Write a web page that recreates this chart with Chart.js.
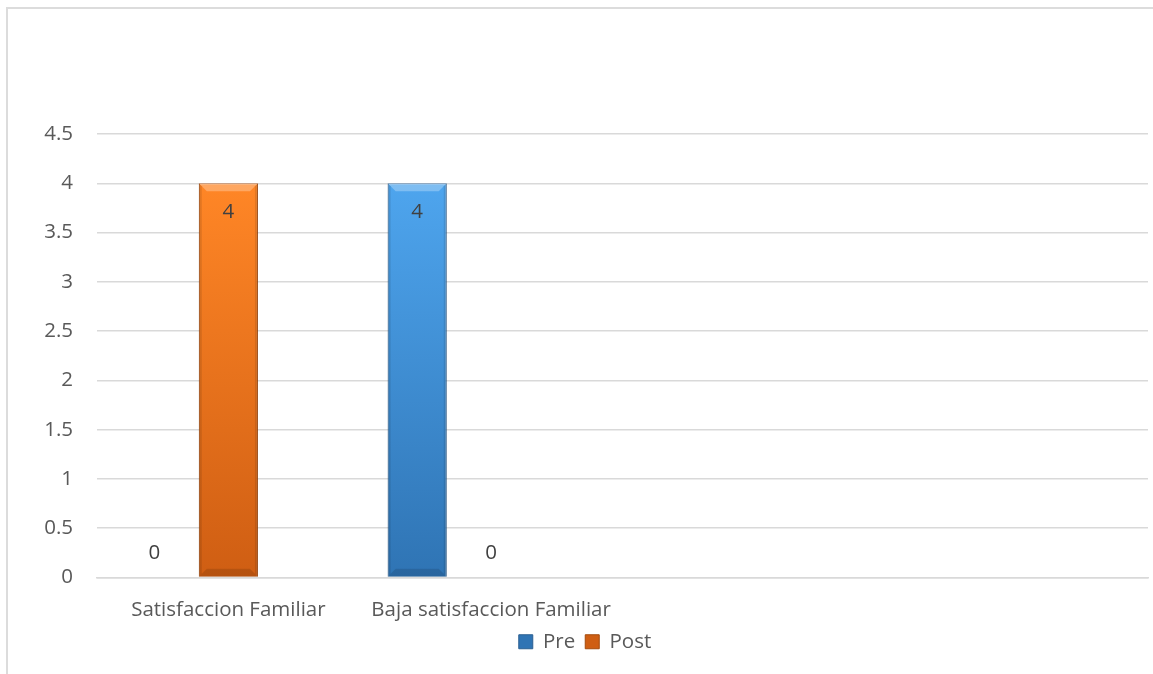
<!DOCTYPE html>
<html>
<head>
<meta charset="utf-8">
<script src="https://cdn.jsdelivr.net/npm/chart.js@4"></script>
<style>
  html, body { margin: 0; padding: 0; background: #fff; overflow: hidden; }
  #frame { position: absolute; left: 6px; top: 7px; width: 1160px; height: 680px;
           border-left: 2px solid #dcdcdc; border-top: 2px solid #dcdcdc; }
  #wrap { position: absolute; left: 0; top: 0; width: 1153px; height: 674px; }
</style>
</head>
<body>
<div id="frame"></div>
<div id="wrap"><canvas id="c" width="1153" height="674"></canvas></div>
<script>
const categories = ['Satisfaccion Familiar', 'Baja satisfaccion Familiar', '', ''];
const preValues = [0, 4, null, null];
const postValues = [4, 0, null, null];
const spacerValues = [null, null, null, null];
const yTicks = [0, 0.5, 1, 1.5, 2, 2.5, 3, 3.5, 4, 4.5];

const FONT = "'Open Sans', 'DejaVu Sans', sans-serif";
const TEXT = '#595959';
const FS = 20.5;

function grad(ctx, top, bottom) {
  const chart = ctx.chart;
  const ys = chart.scales && chart.scales.y;
  if (!ys || !chart.chartArea) return bottom;
  const g = chart.ctx.createLinearGradient(0, ys.getPixelForValue(4), 0, ys.getPixelForValue(0));
  g.addColorStop(0, top);
  g.addColorStop(1, bottom);
  return g;
}

const bevelPlugin = {
  id: 'bevel',
  afterDatasetsDraw(chart) {
    const ctx = chart.ctx;
    chart.data.datasets.forEach((ds, di) => {
      const meta = chart.getDatasetMeta(di);
      if (meta.hidden) return;
      meta.data.forEach((bar, i) => {
        const v = ds.data[i];
        if (v === null || v === 0) return;
        const p = bar.getProps(['x', 'y', 'base', 'width'], true);
        const l = p.x - p.width / 2, r = p.x + p.width / 2, t = p.y, b = p.base;
        const d = 8;
        ctx.save();
        ctx.fillStyle = 'rgba(255,255,255,0.28)';
        ctx.beginPath(); ctx.moveTo(l, t); ctx.lineTo(r, t); ctx.lineTo(r - d, t + d); ctx.lineTo(l + d, t + d); ctx.closePath(); ctx.fill();
        ctx.fillStyle = 'rgba(0,0,0,0.10)';
        ctx.beginPath(); ctx.moveTo(r, t); ctx.lineTo(r, b); ctx.lineTo(r - 3, b - 3); ctx.lineTo(r - 3, t + 3); ctx.closePath(); ctx.fill();
        ctx.beginPath(); ctx.moveTo(l, t); ctx.lineTo(l, b); ctx.lineTo(l + 3, b - 3); ctx.lineTo(l + 3, t + 3); ctx.closePath(); ctx.fill();
        ctx.fillStyle = 'rgba(0,0,0,0.12)';
        ctx.beginPath(); ctx.moveTo(l, b); ctx.lineTo(r, b); ctx.lineTo(r - d, b - d); ctx.lineTo(l + d, b - d); ctx.closePath(); ctx.fill();
        ctx.restore();
      });
    });
  }
};

const labelPlugin = {
  id: 'valueLabels',
  afterDatasetsDraw(chart) {
    const ctx = chart.ctx;
    ctx.save();
    ctx.font = FS + 'px ' + FONT;
    ctx.fillStyle = '#404040';
    ctx.textAlign = 'center';
    ctx.textBaseline = 'middle';
    chart.data.datasets.forEach((ds, di) => {
      if (ds.noLabels) return;
      const meta = chart.getDatasetMeta(di);
      meta.data.forEach((bar, i) => {
        const v = ds.data[i];
        if (v === null || v === undefined) return;
        const p = bar.getProps(['x', 'y', 'base'], true);
        const y = v > 0 ? p.y + 29 : p.base - 24;
        ctx.fillText(String(v), p.x, y);
      });
    });
    ctx.restore();
  }
};

new Chart(document.getElementById('c'), {
  type: 'bar',
  data: {
    labels: categories,
    datasets: [
      { label: 'Pre', data: preValues,
        backgroundColor: c => grad(c, '#4EA5EE', '#2F74B4'),
        borderColor: '#2B5F91', borderWidth: 1 },
      { label: 'Post', data: postValues,
        backgroundColor: c => grad(c, '#FF8626', '#CF5E13'),
        borderColor: '#A54B0D', borderWidth: 1 },
      { label: '', data: spacerValues, noLabels: true, backgroundColor: 'rgba(0,0,0,0)' }
    ]
  },
  options: {
    responsive: false,
    animation: false,
    devicePixelRatio: 1,
    categoryPercentage: 0.844,
    barPercentage: 0.8,
    layout: { padding: { left: 22, right: 5, top: 134, bottom: 12 } },
    plugins: {
      legend: {
        position: 'bottom',
        labels: {
          font: { family: FONT, size: FS },
          color: TEXT,
          boxWidth: 14, boxHeight: 14, padding: 10,
          filter: item => item.text !== ''
        }
      },
      tooltip: { enabled: false }
    },
    scales: {
      x: {
        afterFit: s => { s.height = 44; },
        grid: { display: false, drawTicks: false },
        border: { display: true, color: '#d9d9d9', width: 1.5 },
        ticks: { font: { family: FONT, size: FS }, color: TEXT, padding: 20, maxRotation: 0, autoSkip: false }
      },
      y: {
        min: 0, max: 4.5,
        afterFit: s => { s.width = 75; },
        afterBuildTicks: s => { s.ticks = yTicks.map(v => ({ value: v })); },
        grid: { color: '#d9d9d9', lineWidth: 1.5, drawTicks: false },
        border: { display: false },
        ticks: { font: { family: FONT, size: FS }, color: TEXT, padding: 24, callback: v => String(v) }
      }
    }
  },
  plugins: [bevelPlugin, labelPlugin]
});
</script>
</body>
</html>
